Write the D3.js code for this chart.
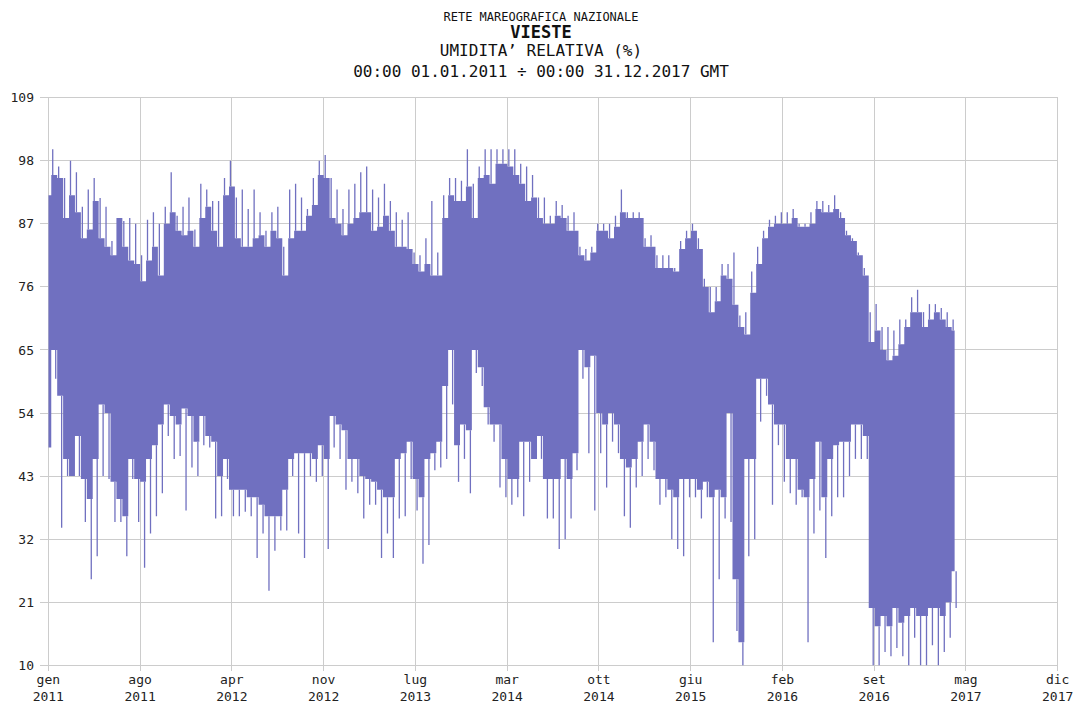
<!DOCTYPE html>
<html><head><meta charset="utf-8">
<script src="https://cdn.jsdelivr.net/npm/d3@7"></script>
<style>body{margin:0;background:#fff}svg{display:block}</style>
</head><body>
<svg id="c" width="1073" height="703"></svg>
<script>
// ---- data (15-day windows starting 01.01.2011) ----
const titleLines = ["RETE MAREOGRAFICA NAZIONALE", "VIESTE", "UMIDITA’ RELATIVA (%)", "00:00 01.01.2011 ÷ 00:00 31.12.2017 GMT"];
const tickMonths = ["gen","ago","apr","nov","lug","mar","ott","giu","feb","set","mag","dic"];
const tickYears  = ["2011","2011","2012","2012","2013","2014","2014","2015","2016","2016","2017","2017"];
const yTicks = [10,21,32,43,54,65,76,87,98,109];
const windowDays = 15;
// peak (max) of each window
const peakMax = [92,100,97,95,98,96,90,93,95,91.5,90,84,88,87.5,88,87,81.5,87.7,89,87,90,96,88.4,90,91.6,86,94,93,91,91,95,98,91.6,93,89.6,93,89,85.8,89,
90,83,93,94,91.6,89.6,95,98,99,95,93,89.6,93,94,96,97,93,91.6,94,91,89,87.7,89,82,81.5,84.5,91,82,92,95,95,94.5,100,94,97,100,100,100,
100,100,100,97.5,97,95.5,91.6,91.6,88.4,91,90.3,88.4,89,83,82.6,83,87,87,87,88.4,93,89,89,89,84.5,85,81.5,81.5,81.5,79.3,84,85.8,87,84.5,77.4,76,76,80,
80,82,71,71.6,78.7,83,85.8,87.7,88.4,89,89,89.6,87,87,89,91,91,90.3,92,89,85.8,84.5,82,79.3,71.6,73,69,69,68.4,70.3,70.3,74.2,75.5,71.6,73,73,72.3,71.6,70.3];
// upper edge of the dense band
const bandHigh = [92,95.5,95,88,92,89,84.5,86,91,84.5,83,81.5,88,83,80.6,80,77,80.6,83,78,87,89,85.8,85,85.8,83,88,90,85.8,83,92,93.5,84.5,83,83,84.5,85,83,85.8,
84.5,78,84.5,85.8,85.8,88.4,90.3,95.5,95,88,87,85,87,88,89,89,85.8,86.5,88.4,85.8,83,83,82.6,80,78.7,80,78,78,88,92,91,91,93.5,88,95,95.5,94,97.5,
97.5,97,95.5,94,91,91.6,88,87,87,88.4,88,85.8,85.8,81.5,80.6,82,85.8,85.8,84.5,86.5,89,88,88,88,83,83,79.3,79.3,79.3,78.7,82.6,84.5,85.8,82.6,76,71.6,73.5,78,
77.4,72.9,69,67.7,75,80,84.5,86.5,87,87,87,88,86.5,86.5,87,89.6,89,89,89.6,88,85,84,81.5,78,66.4,68.4,65,63.2,64,66,69,71.6,71.6,69,70.3,71.6,70.3,69,68.4];
// lower edge of the dense band
const bandLow = [48,65,57,46,43,50,42.5,39,46,55.5,54,42,39,36,46,42.5,42,46,48.4,52,55.5,53.5,52,54.8,53.5,49,53.5,50,49,43,46,40.6,40.6,40.6,39.3,39.3,38,36,36,
36,40.6,46,47,47,47,46,48.4,46,53.5,52,51,46,46,43,42.5,42,40.6,39.3,39.3,46,47,49,42.5,39.3,46,47,49,58.7,65,48.4,52,51,65,62,55,52,52,
46,42.5,42.5,49,49,46,50,42.5,42.5,42.5,46,42.5,47,65,62,64,54,52,54,52,46,44.5,46,49,52,49,42.5,42.5,40.6,39.3,42.5,42.5,42.5,40.6,42,39.3,40.6,39.3,
54,25,14,46,46,60,60,55.5,52,52,46,46,40.6,39.3,42.5,49,39.3,46,48.4,49,49,52,52,50,20,16.8,18.6,16.8,20,17.4,18.6,20,18.6,18.6,20,20,18.6,21,26.4];
// minimum of each window
const dipMin = [48,60,34,43,43,43,35,25,29,43,42.5,35,35,29,42.5,35,27,33,36,40,50,46,46.5,37,44.5,43,48.4,48,35.6,36,42.5,36,36,36.8,36,28.7,33,23,30,
33.5,33.5,43,33,28.7,43,42,43,30.3,48,46,40.6,42,40,35.6,38,38,28.7,33,28.7,35.6,36,42.5,37,27.7,31,44,44.5,46,55.5,42,46,40,61,58.7,52,49,41,
39.3,38,39.3,36,42,46,46,35.6,35.6,30.3,32,35.6,44,60,47,37,47,41,49,47,36,34,41,43,46,44,38,39.3,32,30.3,29,39.3,39.3,35.6,39.3,14,25,35.6,
35,16,10,29,32,52.5,57,38,48.4,42,40,38,39.3,14,33,37,28.7,36,39.3,39.3,43,46,46,46,10,10,12.3,11.6,13,11.6,10,14.8,10,10,13.5,10,12.3,14.8,20];

// ---- chart ----
const svg = d3.select("#c");
const FONT = "'DejaVu Sans Mono', monospace";
const t0 = new Date(Date.UTC(2011,0,1)), t1 = new Date(Date.UTC(2017,11,31));
const x = d3.scaleUtc().domain([t0,t1]).range([48.3,1057.7]);
const y = d3.scaleLinear().domain([10,109]).range([665.3,97.7]);
const DAY = 864e5;
const dates = peakMax.map((_,i)=> new Date(+t0 + i*windowDays*DAY));
const tickDates = d3.range(tickMonths.length).map(k => new Date(+t0 + k*(t1-t0)/(tickMonths.length-1)));

const grid = svg.append("g").attr("stroke","#cccccc").attr("stroke-width",1).attr("shape-rendering","crispEdges");
grid.selectAll("line.h").data(yTicks).join("line").attr("class","h")
  .attr("x1",40).attr("x2",x(t1)).attr("y1",d=>y(d)).attr("y2",d=>y(d));
grid.selectAll("line.v").data(tickDates).join("line").attr("class","v")
  .attr("x1",d=>x(d)).attr("x2",d=>x(d)).attr("y1",y(109)).attr("y2",y(10)+6);

svg.append("defs").append("clipPath").attr("id","pc").append("rect")
  .attr("x",x(t0)).attr("y",y(109)).attr("width",x(t1)-x(t0)).attr("height",y(10)-y(109)+1);

const data = dates.map((d,i)=>({d, pk:peakMax[i], hi:bandHigh[i], lo:bandLow[i], dp:dipMin[i]}));
const g = svg.append("g").attr("clip-path","url(#pc)");
const COL = "#7070c0";
g.append("path").datum(data)
  .attr("fill",COL)
  .attr("d", d3.area().curve(d3.curveStep).x(d=>x(d.d)).y0(d=>y(d.lo)).y1(d=>y(d.hi)));
// spike strokes: max and min of each window drawn as separate thin verticals
g.selectAll("line.sp").data(data).join("line").attr("class","sp")
  .attr("x1",d=>x(d.d)-1.5).attr("x2",d=>x(d.d)-1.5).attr("y1",d=>y(d.hi)).attr("y2",d=>y(d.pk))
  .attr("stroke",COL).attr("stroke-width",1.3);
g.selectAll("line.sd").data(data).join("line").attr("class","sd")
  .attr("x1",d=>x(d.d)+1.5).attr("x2",d=>x(d.d)+1.5).attr("y1",d=>y(d.dp)).attr("y2",d=>y(d.lo))
  .attr("stroke",COL).attr("stroke-width",1.3);

// y labels
svg.selectAll("text.yl").data(yTicks).join("text").attr("class","yl")
  .attr("x",34).attr("y",d=>y(d)).attr("dy","0.35em").attr("text-anchor","end")
  .attr("font-family",FONT).attr("font-size",13).attr("fill","#222").text(d=>d);
// x labels
const xl = svg.selectAll("g.xl").data(tickDates).join("g").attr("class","xl")
  .attr("transform",d=>`translate(${x(d)},0)`);
xl.append("text").attr("y",684).attr("text-anchor","middle").attr("font-family",FONT).attr("font-size",13).attr("fill","#222").text((d,i)=>tickMonths[i]);
xl.append("text").attr("y",701).attr("text-anchor","middle").attr("font-family",FONT).attr("font-size",13).attr("fill","#222").text((d,i)=>tickYears[i]);

// titles
const tcx = 541;
const tsty = [{y:21,s:12,w:"normal"},{y:38,s:17,w:"bold"},{y:56,s:16,w:"normal"},{y:77,s:16,w:"normal"}];
svg.selectAll("text.tt").data(titleLines).join("text").attr("class","tt")
  .attr("x",tcx).attr("y",(d,i)=>tsty[i].y).attr("text-anchor","middle")
  .attr("font-family",FONT).attr("font-size",(d,i)=>tsty[i].s).attr("font-weight",(d,i)=>tsty[i].w)
  .attr("fill","#111").text(d=>d);
</script>
</body></html>
